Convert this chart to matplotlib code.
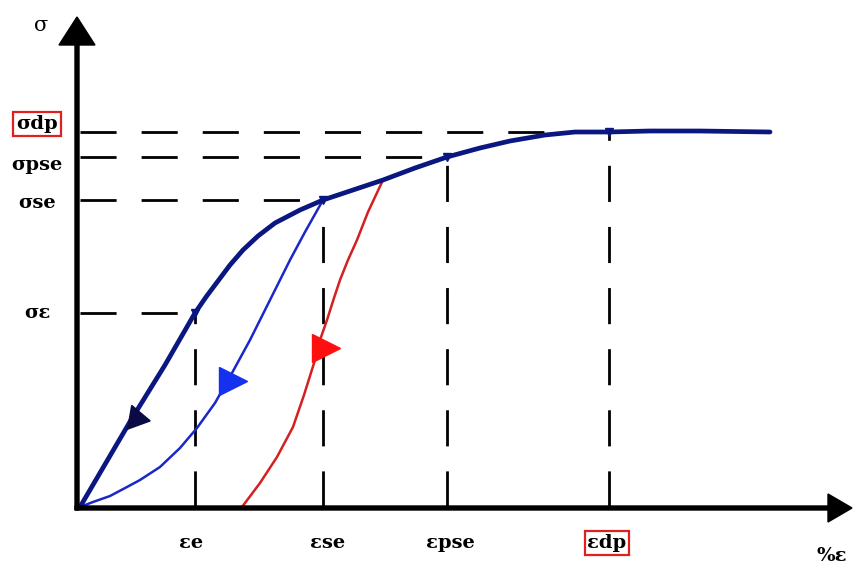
import matplotlib.pyplot as plt

# loading curve (stress vs strain), units are arbitrary
load_x = [0, 51, 85, 115, 126, 138, 150, 163, 178, 195, 220, 243, 270, 303, 335, 367, 400, 430, 465, 495, 529, 570, 620, 690]
load_y = [0, 87, 142, 194, 210, 226, 242, 257, 271, 284, 297, 307, 316, 327, 339, 350, 359, 366, 372, 375, 375, 376, 376, 375]

# unloading from the superelastic point back to the origin
unload_x = [243, 225, 210, 200, 185, 170, 152, 135, 117, 100, 80, 60, 47, 30, 13, 0]
unload_y = [307, 275, 247, 227, 197, 167, 134, 104, 79, 59, 40, 27, 20, 11, 5, 0]

# unloading after partial plastic strain, leaving a residual strain
resid_x = [162, 180, 197, 213, 224, 235, 240, 247, 254, 260, 268, 277, 288, 303]
resid_y = [0, 24, 50, 80, 112, 147, 167, 187, 209, 227, 247, 267, 295, 327]

# direction markers on each path
arrow_x = [56, 153, 246]
arrow_y = [89, 126, 159]

# characteristic points
eps_vals = [115, 243, 367, 529]
sig_vals = [194, 307, 350, 375]
eps_labels = ['εe', 'εse', 'εpse', 'εdp']
sig_labels = ['σε', 'σse', 'σpse', 'σdp']
boxed = [False, False, False, True]

navy = '#0b1780'
fig = plt.figure(figsize=(8.56, 5.69), dpi=100)
ax = fig.add_axes([0, 0, 1, 1])
ax.set_xlim(-80, 776)
ax.set_ylim(-62, 507)
ax.axis('off')

# axes with arrow heads
ax.arrow(-3, -3, 0, 493, width=4, head_width=36, head_length=28,
         length_includes_head=True, color='black', zorder=5)
ax.arrow(-5, -1, 777, 0, width=4, head_width=28, head_length=24,
         length_includes_head=True, color='black', zorder=5)

# dashed guide lines
dash = (0, (13, 9))
for ex, sy in zip(eps_vals, sig_vals):
    ax.plot([0, ex], [sy, sy], color='black', lw=2, linestyle=dash, zorder=1)
    ax.plot([ex, ex], [0, sy], color='black', lw=2, linestyle=dash, zorder=1)

ax.plot(resid_x, resid_y, color='#d42020', lw=1.8, zorder=2, solid_joinstyle='round')
ax.plot(unload_x, unload_y, color='#1a28c8', lw=1.8, zorder=2, solid_joinstyle='round')
ax.plot(load_x, load_y, color=navy, lw=3.4, zorder=3,
        solid_capstyle='round', solid_joinstyle='round')
ax.plot(eps_vals, sig_vals, linestyle='none', marker='v', ms=6, color=navy, zorder=4)

ax.plot(arrow_x[0], arrow_y[0], marker=(3, 0, -100), ms=20, color='#0a0a45', zorder=4)
ax.plot(arrow_x[1], arrow_y[1], marker='>', ms=20, color='#1530ee', zorder=4)
ax.plot(arrow_x[2], arrow_y[2], marker='>', ms=20, color='#ff1010', zorder=4)

font = dict(fontsize=14, fontweight='bold', family='DejaVu Serif', color='black')
red_box = dict(boxstyle='square,pad=0.15', fc='white', ec='#e02020', lw=1.6)

sig_offsets = [0, -3, -8, 8]
for sy, lab, off, b in zip(sig_vals, sig_labels, sig_offsets, boxed):
    ax.text(-43, sy + off, lab, ha='center', va='center',
            bbox=red_box if b else None, **font)

eps_offsets = [-4, 5, 3, -2]
for ex, lab, off, b in zip(eps_vals, eps_labels, eps_offsets, boxed):
    ax.text(ex + off, -36, lab, ha='center', va='center',
            bbox=red_box if b else None, **font)

ax.text(-39, 482, 'σ', ha='center', va='center', fontsize=15,
        family='DejaVu Serif', color='black')
ax.text(752, -49, '%ε', ha='center', va='center', **font)

fig.savefig('out.png', dpi=100)
